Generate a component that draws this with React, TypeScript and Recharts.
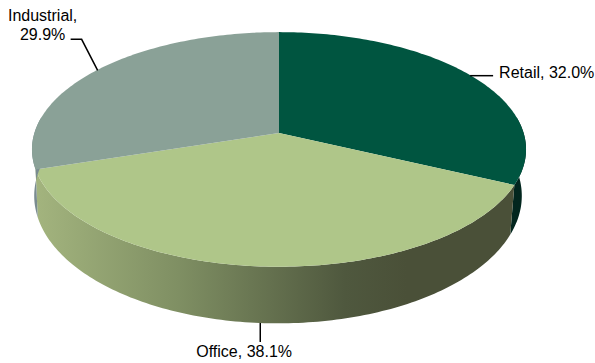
import React from 'react';
import { PieChart, Pie, Cell } from 'recharts';

// Portfolio split by property type
const categories = ['Retail', 'Office', 'Industrial'];
const shares = [32.0, 38.1, 29.9];
const faceColors = ['#005540', '#AFC689', '#8AA197'];
const wallColors = ['#02261E', 'url(#officeWall)', '#7A8C90'];

const rows = categories.map((name, i) => ({ name, value: shares[i] }));

const WIDTH = 595;
const HEIGHT = 363;
const CX = 279;
const CY = 133;

// Perspective projection of the pie's disc: the tilt brings the near edge towards the viewer.
const TILT = -0.14;
const TOP_RX = 244.6;
const TOP_RY = 115;
const BOTTOM_CX = 278;
const BOTTOM_RX = 241.4;
const BOTTOM_RY = 125;
const BOTTOM_CY = 178;

// Recharts angles at which the rim turns out of sight.
const RIM_FROM = 8;
const RIM_TO = -188;

type Pt = [number, number];

function project(angle: number, cx: number, rx: number, ry: number, cy: number): Pt {
  const rad = (angle * Math.PI) / 180;
  const u = Math.cos(rad);
  const v = -Math.sin(rad);
  const w = 1 + TILT * v;
  return [cx + (rx * u) / w, cy + (ry * v) / w];
}

const top = (a: number) => project(a, CX, TOP_RX, TOP_RY, CY);
const bottom = (a: number) => project(a, BOTTOM_CX, BOTTOM_RX, BOTTOM_RY, BOTTOM_CY);

function arc(from: number, to: number, at: (a: number) => Pt): Pt[] {
  const steps = Math.max(2, Math.ceil(Math.abs(from - to)));
  const pts: Pt[] = [];
  for (let i = 0; i <= steps; i++) pts.push(at(from + ((to - from) * i) / steps));
  return pts;
}

const toPath = (pts: Pt[]) =>
  'M' + pts.map(([x, y]) => `${x.toFixed(2)} ${y.toFixed(2)}`).join('L') + 'Z';

function Slice(props: any) {
  const { startAngle, endAngle, index } = props;
  const from = Math.min(startAngle, RIM_FROM);
  const to = Math.max(endAngle, RIM_TO);
  const hasWall = from > to;
  return (
    <g>
      {hasWall && (
        <path
          d={toPath([...arc(from, to, top), ...arc(to, from, bottom)])}
          fill={wallColors[index]}
        />
      )}
      <path d={toPath([[CX, CY], ...arc(startAngle, endAngle, top)])} fill={faceColors[index]} />
    </g>
  );
}

const textStyle = { fontFamily: '"Liberation Sans", Arial, sans-serif', fontSize: 16, fill: '#000' };
const leaderStyle = { fill: 'none', stroke: '#000', strokeWidth: 1.5 };

function SliceLabel(props: any) {
  const { midAngle, name, value } = props;
  const pct = `${Number(value).toFixed(1)}%`;
  const [x, y] = top(midAngle);
  if (name === 'Retail') {
    return (
      <g>
        <polyline points={`${x - 1},${y} ${x + 22},${y}`} style={leaderStyle} />
        <text x={x + 28} y={y + 2} style={textStyle}>{`${name}, ${pct}`}</text>
      </g>
    );
  }
  if (name === 'Office') {
    const by = bottom(midAngle)[1];
    return (
      <g>
        <polyline points={`${x},${by} ${x},${by + 19}`} style={leaderStyle} />
        <text x={x - 64} y={by + 34} style={textStyle}>{`${name}, ${pct}`}</text>
      </g>
    );
  }
  return (
    <g>
      <polyline points={`${x + 1},${y} ${x - 15},${y - 31} ${x - 26},${y - 31}`} style={leaderStyle} />
      <text x={x - 54} y={y - 49} textAnchor="middle" style={textStyle}>{`${name},`}</text>
      <text x={x - 54} y={y - 30} textAnchor="middle" style={textStyle}>{pct}</text>
    </g>
  );
}

export default function App() {
  return (
    <div style={{ position: 'absolute', left: 0, top: 0, width: WIDTH, height: HEIGHT, background: '#fff' }}>
      <PieChart width={WIDTH} height={HEIGHT} margin={{ top: 0, right: 0, bottom: 0, left: 0 }}>
        <defs>
          <linearGradient id="officeWall" gradientUnits="userSpaceOnUse" x1="36" y1="0" x2="511" y2="0">
            <stop offset="0" stopColor="#A3B47E" />
            <stop offset="0.3" stopColor="#7F8F63" />
            <stop offset="0.65" stopColor="#4F583E" />
            <stop offset="0.78" stopColor="#4A5038" />
            <stop offset="1" stopColor="#4A5038" />
          </linearGradient>
        </defs>
        <Pie
          data={rows}
          dataKey="value"
          nameKey="name"
          cx={CX}
          cy={CY}
          outerRadius={100}
          startAngle={90}
          endAngle={-270}
          stroke="none"
          isAnimationActive={false}
          shape={Slice}
          label={SliceLabel}
          labelLine={false}
        >
          {rows.map((r, i) => (
            <Cell key={r.name} fill={faceColors[i]} />
          ))}
        </Pie>
      </PieChart>
    </div>
  );
}
